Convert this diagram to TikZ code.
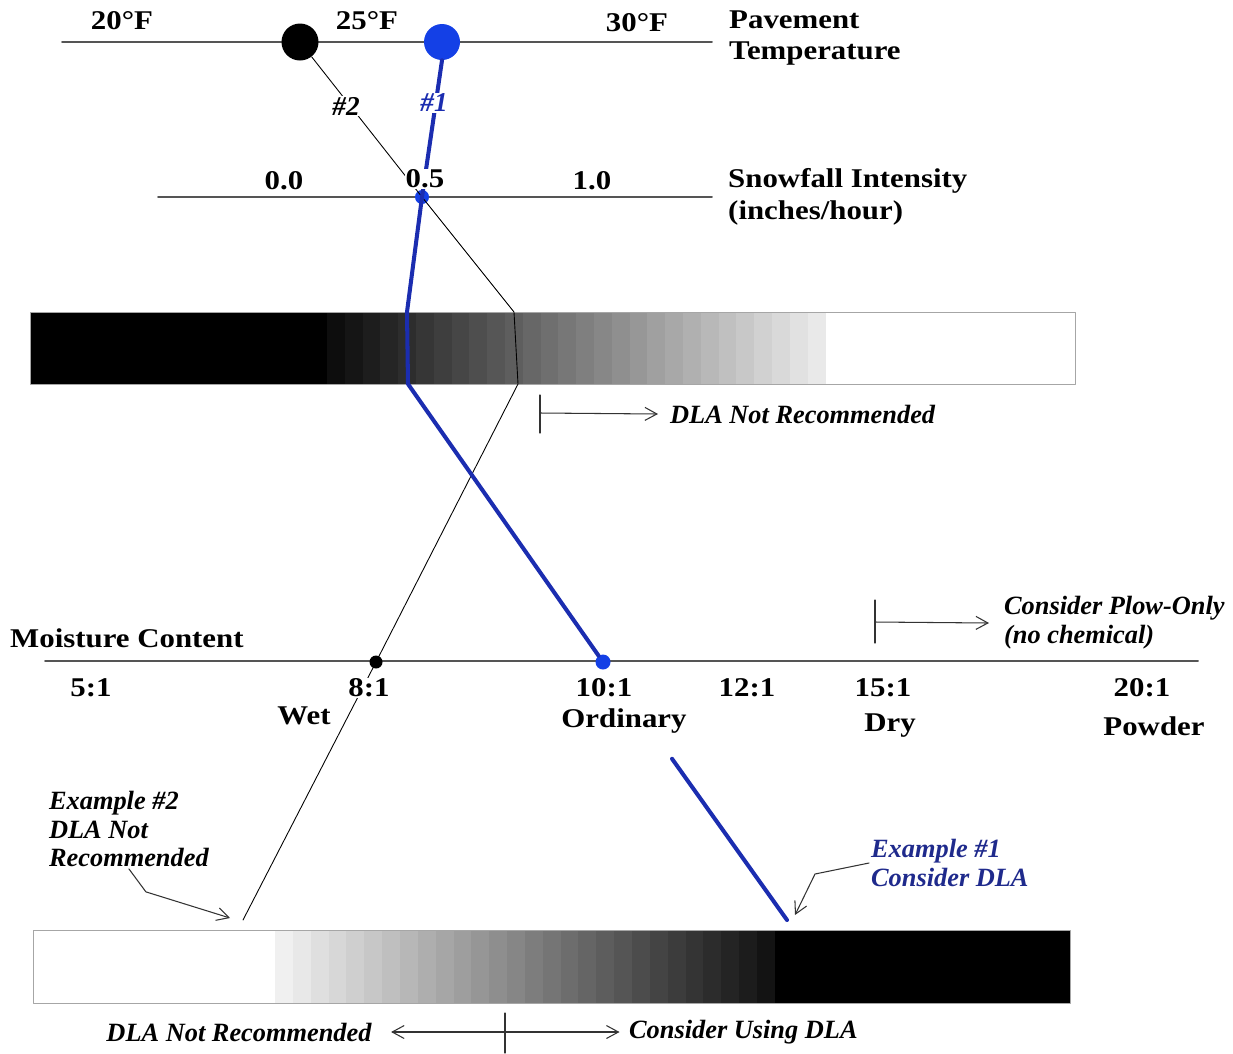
\documentclass[tikz,border=0pt]{standalone}
\usepackage{fontspec}
\setmainfont{Liberation Serif}[FakeStretch=1.14]
\newfontfamily\notefont{Liberation Serif}
\usetikzlibrary{arrows.meta, calc}
\definecolor{dlablue}{HTML}{1B2DB0}
\definecolor{dotblue}{HTML}{1440E6}
\definecolor{notenavy}{HTML}{1F2A8C}
\definecolor{axisgray}{HTML}{555555}

\begin{document}
\begin{tikzpicture}[
  x=0.2mm, y=-0.2mm,
  >={Straight Barb[length=2.4mm, width=2.6mm]},
  line cap=round, line join=round,
  axis/.style={draw=axisgray, line width=1.1pt},
  tick/.style={draw=black!80, line width=0.6pt},
  lbl/.style={font=\fontsize{15.4}{18}\selectfont\bfseries, fill=white, inner sep=0.5pt},
  note/.style={font=\notefont\fontsize{15}{16.4}\selectfont\bfseries\itshape, inner sep=1pt, align=left},
  ex1/.style={draw=dlablue, line width=2.3pt},
  ex2/.style={draw=black, line width=0.5pt},
  pin/.style={circle, inner sep=0pt, minimum size=#1},
]
\useasboundingbox (0,0) rectangle (1233,1053);

% ----- scales -----
\draw[axis] (62,42) -- (712,42);
\draw[axis] (158,197) -- (712,197);
\draw[axis] (45,661) -- (1198,661);

% ----- upper bar: dark to light -----
\fill[black] (30,312) rectangle (328,384);
\foreach \i in {0,...,27}{
  \pgfmathsetmacro\shade{95-\i*3.2}
  \fill[black!\shade] (327+\i*17.8,312) rectangle ++(18.3,72);
}
\draw[black!35, line width=0.4pt] (30,312) rectangle (1075,384);

% ----- lower bar: light to dark -----
\foreach \i in {0,...,27}{
  \pgfmathsetmacro\shade{6+\i*3.2}
  \fill[black!\shade] (275+\i*17.85,930) rectangle ++(18.3,73);
}
\fill[black] (775,930) rectangle (1070,1003);
\draw[black!35, line width=0.4pt] (33,930) rectangle (1070,1003);

% ----- points -----
\node[pin=7.4mm, fill=black] (t23) at (300,42) {};
\node[pin=7.2mm, fill=dotblue] (t26) at (442,42) {};
\node[pin=2.8mm, fill=dotblue] (s05) at (422,197) {};
\node[pin=2.6mm, fill=black] (m8) at (376,662) {};
\node[pin=3mm, fill=dotblue] (m10) at (603,662) {};
\coordinate (p1top) at (407,312);
\coordinate (p1bot) at (408,384);
\coordinate (p2top) at (514,312);
\coordinate (p2bot) at (518,384);
\coordinate (e1) at (787,920);
\coordinate (e2) at (243,920);

% ----- example paths -----
\draw[ex2] (t23) -- (s05.center) -- (p2top) -- (p2bot) -- (m8.center) -- (e2);
\draw[ex1] (t26.south) -- (s05.center) -- (p1top) -- (p1bot) -- (m10);
\draw[ex1] ($(m10)!0.375!(e1)$) -- (e1);

% ----- temperature labels -----
\node[lbl] (t20) at (122,21) {20°F};
\node[lbl] (t25) at (367,21) {25°F};
\node[lbl] (t30) at (637,23) {30°F};
\node[lbl, anchor=west, align=left] (ttitle) at (728,38) {Pavement\\Temperature};
\node[lbl, font=\notefont\fontsize{15.5}{18}\selectfont\bfseries\itshape] (n2) at (346,106) {\#2};
\node[lbl, text=dlablue, font=\notefont\fontsize{15.5}{18}\selectfont\bfseries\itshape] (n1) at (434,103) {\#1};

% ----- snowfall labels -----
\node[lbl] (s00) at (284,181) {0.0};
\node[lbl] (s05l) at (425,179) {0.5};
\node[lbl] (s10) at (592,181) {1.0};
\node[lbl, anchor=west, align=left] (stitle) at (727,197) {Snowfall Intensity\\(inches/hour)};

% ----- moisture labels -----
\node[lbl, anchor=west] (mtitle) at (9,638) {Moisture Content};
\node[lbl] (m5l) at (91,688) {5:1};
\node[lbl] (m8l) at (369,688) {8:1};
\node[lbl] (m10l) at (604,688) {10:1};
\node[lbl] (m12l) at (747,688) {12:1};
\node[lbl] (m15l) at (883,688) {15:1};
\node[lbl] (m20l) at (1142,688) {20:1};
\node[lbl] (wet) at (304,716) {Wet};
\node[lbl] (ord) at (624,721) {Ordinary};
\node[lbl] (dry) at (890,726) {Dry};
\node[lbl] (pow) at (1154,726) {Powder};

% ----- notes -----
\coordinate (dnr) at (540,413);
\draw[tick] (540,395) -- (540,433);
\node[note, anchor=west] (dlanr) at (668,414) {DLA Not Recommended};
\draw[tick, ->] (dnr) -- ([xshift=-2mm]dlanr.west);

\coordinate (plow) at (875,622);
\draw[tick] (875,600) -- (875,643);
\node[note, anchor=west] (plownote) at (1002,623) {Consider Plow-Only\\(no chemical)};
\draw[tick, ->] (plow) -- ([xshift=-2.6mm]plownote.west);

\node[note, anchor=west, font=\notefont\fontsize{15}{16.2}\selectfont\bfseries\itshape] (ex2note) at (47,829) {Example \#2\\DLA Not\\Recommended};
\coordinate (x2tip) at (230,918);
\draw[tick, ->] (ex2note.south) -- ++(17,23) -- (x2tip);

\node[note, anchor=west, text=notenavy] (ex1note) at (869,863) {Example \#1\\Consider DLA};
\coordinate (x1tip) at (795,915);
\draw[tick, ->] (ex1note.west) -- ++(-54,11) -- (x1tip);

% ----- bottom scale -----
\draw[tick] (505,1013) -- (505,1053);
\node[note] (botnr) at (239,1032) {DLA Not Recommended};
\node[note, anchor=west] (botuse) at (627,1032) {Consider Using DLA};
\draw[tick, <->, shorten <=3.5mm] (botnr.east) -- ([xshift=-1.5mm]botuse.west);
\end{tikzpicture}
\end{document}
